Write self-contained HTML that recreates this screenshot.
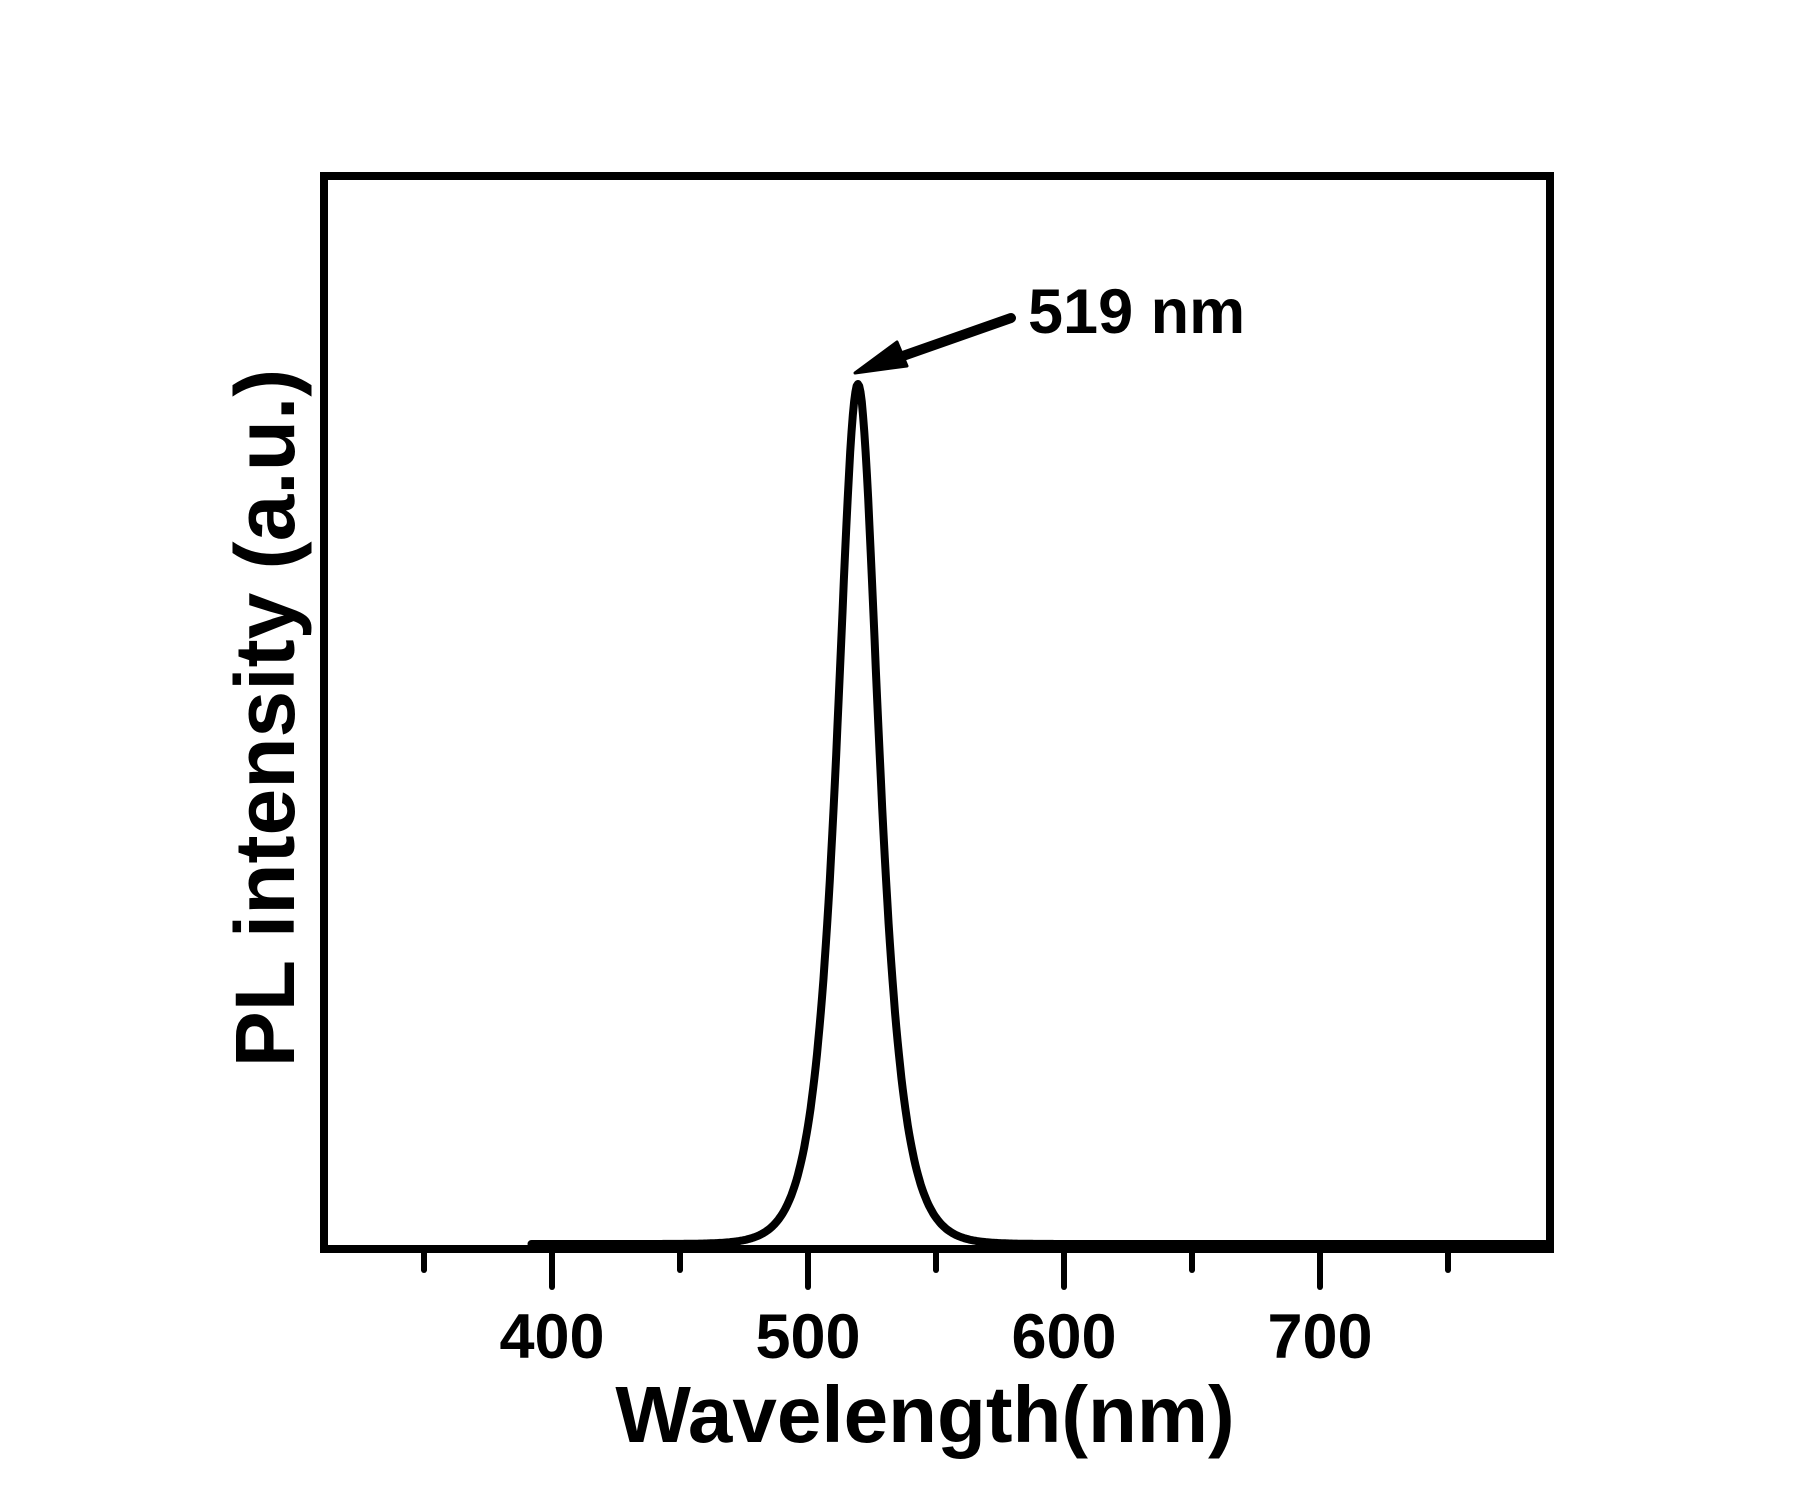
<!DOCTYPE html>
<html><head><meta charset="utf-8"><style>
html,body{margin:0;padding:0;background:#fff;}
svg{display:block;}
text{font-family:"Liberation Sans",Arial,sans-serif;font-weight:bold;fill:#000;}
</style></head><body>
<svg id="s" width="1800" height="1500" viewBox="0 0 1800 1500" xmlns="http://www.w3.org/2000/svg">
<rect x="0" y="0" width="1800" height="1500" fill="#fff"/>
<path id="curve" d="" fill="none" stroke="#000" stroke-width="8" stroke-linejoin="round" stroke-linecap="round"/>
<rect x="324" y="176" width="1226" height="1073" fill="none" stroke="#000" stroke-width="8"/>
<g stroke="#000" stroke-width="6" stroke-linecap="round">
<line x1="424" y1="1249" x2="424" y2="1270"/>
<line x1="552" y1="1249" x2="552" y2="1287"/>
<line x1="680" y1="1249" x2="680" y2="1270"/>
<line x1="808" y1="1249" x2="808" y2="1287"/>
<line x1="936" y1="1249" x2="936" y2="1270"/>
<line x1="1064" y1="1249" x2="1064" y2="1287"/>
<line x1="1192" y1="1249" x2="1192" y2="1270"/>
<line x1="1320" y1="1249" x2="1320" y2="1287"/>
<line x1="1448" y1="1249" x2="1448" y2="1270"/>
</g>
<g font-size="63" text-anchor="middle">
<text x="552" y="1358">400</text>
<text x="808" y="1358">500</text>
<text x="1064" y="1358">600</text>
<text x="1320" y="1358">700</text>
</g>
<text x="925" y="1442" font-size="80" text-anchor="middle">Wavelength(nm)</text>
<text transform="translate(294,718) rotate(-90)" font-size="84" text-anchor="middle">PL intensity (a.u.)</text>
<text x="1028" y="333" font-size="63">519 nm</text>
<line x1="1011" y1="318" x2="900" y2="357" stroke="#000" stroke-width="10" stroke-linecap="round"/>
<polygon points="855,373 897,342 907,366" fill="#000" stroke="#000" stroke-width="3" stroke-linejoin="round"/>
</svg>
<script>
(function(){
var d="";
for(var w=392;w<=1550;w+=0.5){
  var x=552+(w-400)*2.56;
  if(x>1546)break;
  var dx=(w-519.5)/7.3;
  var v=2/(Math.exp(dx)+Math.exp(-dx));
  var y=1244-860*v;
  d+=(d?"L":"M")+x.toFixed(1)+","+y.toFixed(1);
}
document.getElementById("curve").setAttribute("d",d);
})();
</script>
</body></html>
